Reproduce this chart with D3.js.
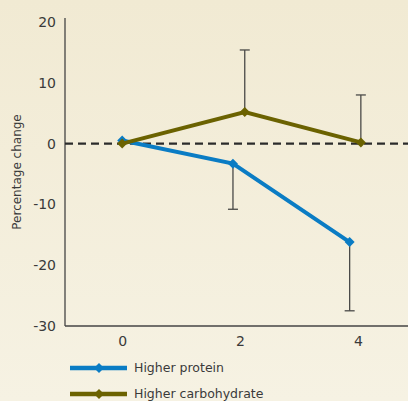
<!DOCTYPE html>
<html lang="en">
<head>
  <meta charset="UTF-8">
  <script src="https://cdn.jsdelivr.net/npm/d3@7"></script>
  <title>Percentage change</title>
  <style>
    body { margin: 0; }
    svg { display: block; }
    text { font-family: 'DejaVu Sans', sans-serif; fill: #3a3a3a; }
    .tick text { font-size: 14px; }
  </style>
</head>
<body>
  <script>
    // values
    const yTicks = [20, 10, 0, -10, -20, -30];
    const xTicks = [0, 2, 4];

    const proteinX = [0, 1.88, 3.86];
    const proteinY = [0.5, -3.3, -16.2];
    const proteinErr = [null, -10.8, -27.5];

    const carbX = [0, 2.08, 4.05];
    const carbY = [0, 5.2, 0.2];
    const carbErr = [null, 15.4, 8.0];

    const seriesNames = ['Higher protein', 'Higher carbohydrate'];
    const colors = ['#0a7cc4', '#6b6200'];

    const width = 408, height = 401;
    const marginLeft = 65, axisTop = 18, axisBottom = 326;

    const x = d3.scaleLinear().domain([-0.97, 4.85]).range([marginLeft, width]);
    const y = d3.scaleLinear().domain([-30, 20]).range([axisBottom, 22]);

    const svg = d3.select('body').append('svg').attr('width', width).attr('height', height);

    const grad = svg.append('defs').append('linearGradient').attr('id', 'bg')
      .attr('x1', 0).attr('y1', 0).attr('x2', 0).attr('y2', 1);
    grad.append('stop').attr('offset', '0%').attr('stop-color', '#f1ead3');
    grad.append('stop').attr('offset', '100%').attr('stop-color', '#f6f2e3');
    svg.append('rect').attr('width', width).attr('height', height).attr('fill', 'url(#bg)');

    // axes (plain hyphen for negatives, like the original)
    const axisY = d3.axisLeft(y).tickValues(yTicks).tickSize(0).tickPadding(9)
      .tickFormat(d => String(d));
    const gy = svg.append('g').attr('transform', `translate(${marginLeft},0)`).call(axisY);
    gy.select('.domain').remove();
    svg.append('line').attr('x1', marginLeft).attr('x2', marginLeft).attr('y1', axisTop).attr('y2', axisBottom)
      .attr('stroke', '#444').attr('stroke-width', 1.3);
    svg.append('line').attr('x1', marginLeft).attr('x2', width).attr('y1', axisBottom).attr('y2', axisBottom)
      .attr('stroke', '#444').attr('stroke-width', 1.3);

    const axisX = d3.axisBottom(x).tickValues(xTicks).tickSize(0).tickPadding(10)
      .tickFormat(d => String(d));
    const gx = svg.append('g').attr('transform', `translate(0,${axisBottom})`).call(axisX);
    gx.select('.domain').remove();

    svg.append('text').attr('transform', `translate(21,${(axisTop + axisBottom) / 2}) rotate(-90)`)
      .attr('text-anchor', 'middle').style('font-size', '12px').text('Percentage change');

    // zero line
    svg.append('line').attr('x1', marginLeft).attr('x2', width).attr('y1', y(0)).attr('y2', y(0))
      .attr('stroke', '#2b2b2b').attr('stroke-width', 2.2).attr('stroke-dasharray', '8 5');

    const series = [
      { xs: proteinX, ys: proteinY, err: proteinErr },
      { xs: carbX, ys: carbY, err: carbErr }
    ];

    // error bars
    series.forEach(s => {
      s.err.forEach((e, i) => {
        if (e === null) return;
        const cx = x(s.xs[i]);
        svg.append('line').attr('x1', cx).attr('x2', cx).attr('y1', y(s.ys[i])).attr('y2', y(e))
          .attr('stroke', '#4a4a48').attr('stroke-width', 1.3);
        svg.append('line').attr('x1', cx - 5).attr('x2', cx + 5).attr('y1', y(e)).attr('y2', y(e))
          .attr('stroke', '#4a4a48').attr('stroke-width', 1.3);
      });
    });

    // square diamond: a square turned 45 degrees
    const diamond = d3.symbol().type(d3.symbolSquare).size(50);
    const line = d3.line().x(d => x(d[0])).y(d => y(d[1]));

    series.forEach((s, k) => {
      const pts = s.xs.map((v, i) => [v, s.ys[i]]);
      svg.append('path').attr('d', line(pts)).attr('fill', 'none')
        .attr('stroke', colors[k]).attr('stroke-width', 4);
      svg.selectAll(null).data(pts).enter().append('path')
        .attr('d', diamond).attr('fill', colors[k])
        .attr('transform', d => `translate(${x(d[0])},${y(d[1])}) rotate(45)`);
    });

    // legend
    seriesNames.forEach((name, k) => {
      const ly = 368 + k * 26;
      svg.append('line').attr('x1', 70).attr('x2', 127).attr('y1', ly).attr('y2', ly)
        .attr('stroke', colors[k]).attr('stroke-width', 4.5);
      svg.append('path').attr('d', diamond).attr('fill', colors[k])
        .attr('transform', `translate(99,${ly}) rotate(45)`);
      svg.append('text').attr('x', 134).attr('y', ly).attr('dy', '0.35em')
        .style('font-size', '12.5px').text(name);
    });
  </script>
</body>
</html>
